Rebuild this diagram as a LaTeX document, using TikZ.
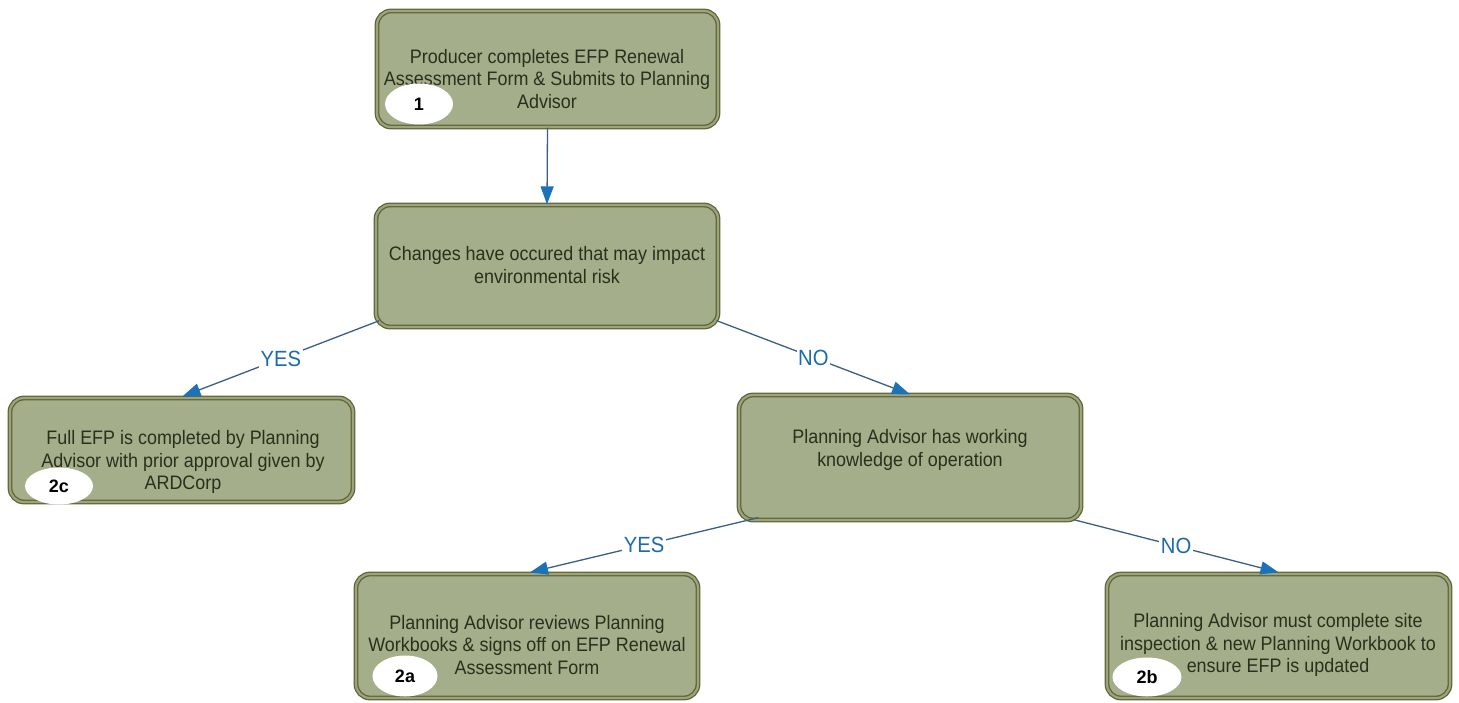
\documentclass[tikz,border=0pt]{standalone}
\usepackage{fontspec}
\setmainfont{Liberation Sans}[FakeStretch=0.92]
\newfontfamily\numfont{Liberation Sans}
\usetikzlibrary{shapes.geometric,arrows.meta,calc}
\definecolor{boxfill}{HTML}{A5AE8A}
\definecolor{boxline}{HTML}{5F6338}
\definecolor{boxring}{HTML}{9CA47C}
\definecolor{txtcol}{HTML}{2A2F1E}
\definecolor{lnblue}{HTML}{3A5F84}
\definecolor{tipblue}{HTML}{1B72B8}
\definecolor{lblblue}{HTML}{1E6AAC}
\tikzset{
  flowbox/.style={draw=boxline, line width=1.3pt, double=boxring, double distance=2.2pt,
    fill=boxfill, rounded corners=14pt, inner sep=0pt},
  boxtext/.style={align=center, text=txtcol, inner sep=0pt,
    font=\fontsize{19.5}{22.8}\selectfont},
  numell/.style={ellipse, fill=white, inner sep=0pt, font=\numfont\bfseries\fontsize{18}{20}\selectfont},
  conn/.style={draw=lnblue, line width=1.3pt, -{Triangle[length=18pt,width=13pt,fill=tipblue,color=tipblue]}},
  lbl/.style={fill=white, text=lblblue, inner sep=1.5pt, font=\fontsize{22}{24}\selectfont}
}
\begin{document}
\begin{tikzpicture}[x=1pt,y=-1pt]
\useasboundingbox (0,0) rectangle (1459,702);
% boxes
\node[flowbox, minimum width=341pt, minimum height=116pt] (b1) at (547.5,69) {};
\node[flowbox, minimum width=342pt, minimum height=122pt] (b2) at (547,266) {};
\node[flowbox, minimum width=343pt, minimum height=104pt] (b2c) at (181.5,450) {};
\node[flowbox, minimum width=342pt, minimum height=125pt] (bk) at (910,457.5) {};
\node[flowbox, minimum width=342pt, minimum height=124pt] (b2a) at (527,636) {};
\node[flowbox, minimum width=343pt, minimum height=124pt] (b2b) at (1278.5,636) {};
% texts
\node[boxtext] (t1) at (547,79) {Producer completes EFP Renewal\\Assessment Form \& Submits to Planning\\Advisor};
\node[boxtext] (t2) at (547,265) {Changes have occured that may impact\\environmental risk};
\node[boxtext] (t2c) at (183,462) {Full EFP is completed by Planning\\Advisor with prior approval given by\\ARDCorp};
\node[boxtext] (tk) at (910,450) {Planning Advisor has working\\knowledge of operation};
\node[boxtext] (t2a) at (527,645) {Planning Advisor reviews Planning\\Workbooks \& signs off on EFP Renewal\\Assessment Form};
\node[boxtext] (t2b) at (1278,645) {Planning Advisor must complete site\\inspection \& new Planning Workbook to\\ensure EFP is updated};
% number ellipses
\node[numell, minimum width=68pt, minimum height=41pt] (n1) at (419,104) {1};
\node[numell, minimum width=68pt, minimum height=37pt] (n2c) at (59,486) {2c};
\node[numell, minimum width=65pt, minimum height=41pt] (n2a) at (405,676) {2a};
\node[numell, minimum width=69pt, minimum height=39pt] (n2b) at (1147,677) {2b};
% connectors
\draw[conn] (b1.south) -- (b2.north);
\draw[conn] ([xshift=4pt,yshift=7pt]b2.south west) -- node[lbl]{YES} ([xshift=1pt,yshift=1pt]b2c.north);
\draw[conn] ([xshift=-2pt,yshift=7pt]b2.south east) -- node[lbl]{NO} (bk.north);
\draw[conn] ([xshift=20pt,yshift=3pt]bk.south west) -- node[lbl]{YES} ([xshift=3pt,yshift=1pt]b2a.north);
\draw[conn] ([xshift=-8pt,yshift=1pt]bk.south east) -- node[lbl]{NO} ([yshift=1pt]b2b.north);
\end{tikzpicture}
\end{document}
